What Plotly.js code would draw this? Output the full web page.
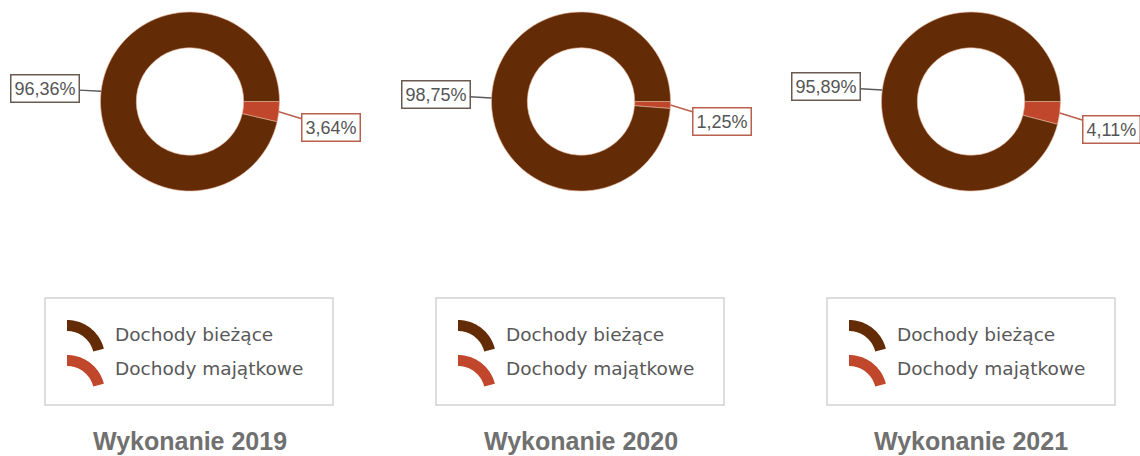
<!DOCTYPE html>
<html>
<head>
<meta charset="utf-8">
<script src="https://cdn.plot.ly/plotly-3.0.1.min.js"></script>
<style>html,body{margin:0;padding:0;background:#fff;}#chart{width:1140px;height:456px;}</style>
</head>
<body>
<div id="chart"></div>
<script>
// ---- data ----
const years = ['2019', '2020', '2021'];
const categories = ['Dochody bieżące', 'Dochody majątkowe'];
const biezace = [96.36, 98.75, 95.89];
const majatkowe = [3.64, 1.25, 4.11];
const chartTitles = ['Wykonanie 2019', 'Wykonanie 2020', 'Wykonanie 2021'];

// ---- styling / layout ----
const W = 1140, H = 456;
const centersX = [190, 581, 971];
const centerY = 101.5;
const R = 89.5;
const colBiez = '#632c07';
const colMaj = '#c0472c';
const legendLeft = [45, 436, 827];

function fmt(v) { return v.toFixed(2).replace('.', ',') + '%'; }

const traces = [];
const annotations = [];
const shapes = [];

function arcIcon(x0, top, color) {
  const cx = x0, cy = top + 38, ro = 38, ri = 27;
  const a0 = 90, a1 = 14, n = 24;
  let pts = [];
  for (let k = 0; k <= n; k++) {
    const a = (a0 + (a1 - a0) * k / n) * Math.PI / 180;
    pts.push([cx + ro * Math.cos(a), cy - ro * Math.sin(a)]);
  }
  for (let k = n; k >= 0; k--) {
    const a = (a0 + (a1 - a0) * k / n) * Math.PI / 180;
    pts.push([cx + ri * Math.cos(a), cy - ri * Math.sin(a)]);
  }
  const path = 'M ' + pts.map(p => p[0].toFixed(2) + ' ' + p[1].toFixed(2)).join(' L ') + ' Z';
  return {type: 'path', xref: 'x', yref: 'y', path: path, fillcolor: color, line: {width: 0}, layer: 'above'};
}

for (let i = 0; i < years.length; i++) {
  const cx = centersX[i];
  traces.push({
    type: 'pie',
    values: [majatkowe[i], biezace[i]],
    labels: [categories[1], categories[0]],
    sort: false,
    direction: 'clockwise',
    rotation: 90,
    hole: 0.6,
    textinfo: 'none',
    marker: {colors: [colMaj, colBiez], line: {color: '#e9b49a', width: 0.6}},
    showlegend: false,
    domain: {x: [(cx - R) / W, (cx + R) / W], y: [(H - centerY - R) / H, (H - centerY + R) / H]},
    name: years[i]
  });

  // label anchors from the slice mid-angles
  const total = biezace[i] + majatkowe[i];
  const th = (majatkowe[i] / total) * Math.PI; // half of small slice angle
  const sx = cx + R * Math.cos(th), sy = centerY + R * Math.sin(th);
  const bx = cx - R * Math.cos(th), by = centerY - R * Math.sin(th);
  annotations.push({
    x: bx, y: by, xref: 'x', yref: 'y', text: fmt(biezace[i]),
    showarrow: true, arrowhead: 0, arrowwidth: 1.5, arrowcolor: '#5a5a5a',
    ax: -56, ay: -3, standoff: 0,
    bordercolor: '#6b5a50', borderwidth: 1.5, borderpad: 3, bgcolor: '#ffffff',
    font: {family: 'Liberation Sans, Arial, sans-serif', size: 18, color: '#555555'}
  });
  annotations.push({
    x: sx, y: sy, xref: 'x', yref: 'y', text: fmt(majatkowe[i]),
    showarrow: true, arrowhead: 0, arrowwidth: 1.5, arrowcolor: '#b8604c',
    ax: 52, ay: 16, standoff: 0,
    bordercolor: '#b8604c', borderwidth: 1.5, borderpad: 3, bgcolor: '#ffffff',
    font: {family: 'Liberation Sans, Arial, sans-serif', size: 18, color: '#555555'}
  });

  // legend box
  const lx = legendLeft[i];
  shapes.push({type: 'rect', xref: 'x', yref: 'y', x0: lx, x1: lx + 288, y0: 298, y1: 405,
    line: {color: '#d2d2d2', width: 1.5}, fillcolor: 'rgba(0,0,0,0)'});
  shapes.push(arcIcon(lx + 22, 320, colBiez));
  shapes.push(arcIcon(lx + 22, 355, colMaj));
  annotations.push({x: lx + 68, y: 334, xref: 'x', yref: 'y', xanchor: 'left', yanchor: 'middle',
    text: categories[0], showarrow: false,
    font: {family: 'DejaVu Sans, sans-serif', size: 18.5, color: '#585858'}});
  annotations.push({x: lx + 68, y: 368, xref: 'x', yref: 'y', xanchor: 'left', yanchor: 'middle',
    text: categories[1], showarrow: false,
    font: {family: 'DejaVu Sans, sans-serif', size: 18.5, color: '#585858'}});

  // title
  annotations.push({x: cx, y: 441, xref: 'x', yref: 'y', xanchor: 'center', yanchor: 'middle',
    text: '<b>' + chartTitles[i] + '</b>', showarrow: false,
    font: {family: 'Liberation Sans, Arial, sans-serif', size: 25, color: '#707070'}});
}

const layout = {
  width: W, height: H,
  margin: {l: 0, r: 0, t: 0, b: 0},
  paper_bgcolor: '#ffffff', plot_bgcolor: 'rgba(0,0,0,0)',
  xaxis: {range: [0, W], visible: false, fixedrange: true},
  yaxis: {range: [H, 0], visible: false, fixedrange: true},
  showlegend: false,
  annotations: annotations,
  shapes: shapes
};

Plotly.newPlot('chart', traces, layout, {displayModeBar: false, staticPlot: true});
</script>
</body>
</html>
